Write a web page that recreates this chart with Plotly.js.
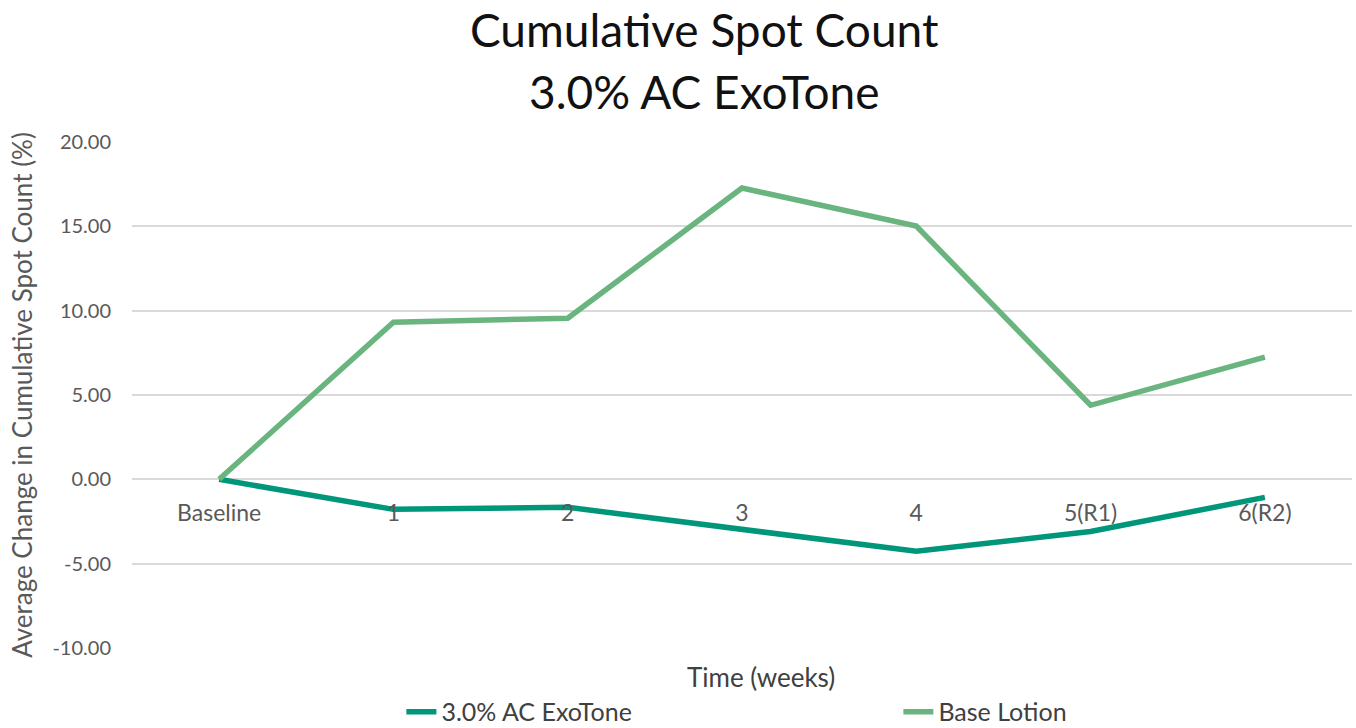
<!DOCTYPE html>
<html>
<head>
<meta charset="utf-8">
<script src="https://cdn.plot.ly/plotly-3.0.1.min.js"></script>
<style>html,body{margin:0;padding:0;background:#fff;}#chart{width:1356px;height:728px;}</style>
</head>
<body>
<div id="chart"></div>
<script>
const categories = ["Baseline", "1", "2", "3", "4", "5(R1)", "6(R2)"];
const exoTone = [0.00, -1.78, -1.66, -2.97, -4.27, -3.09, -1.07];
const baseLotion = [0.00, 9.32, 9.55, 17.27, 15.02, 4.39, 7.24];
const yTicks = [-10, -5, 0, 5, 10, 15, 20];
const yTickText = yTicks.map(v => v.toFixed(2));
const seriesNames = ["3.0% AC ExoTone", "Base Lotion"];
const titleLines = ["Cumulative Spot Count", "3.0% AC ExoTone"];

const FONT = "Lato, 'Open Sans', sans-serif";
const traces = [
  {x: categories, y: exoTone, name: seriesNames[0], type: "scatter", mode: "lines",
   line: {color: "#00967a", width: 5.5}},
  {x: categories, y: baseLotion, name: seriesNames[1], type: "scatter", mode: "lines",
   line: {color: "#6ab57f", width: 5.5}}
];
const layout = {
  width: 1356, height: 728,
  margin: {l: 132, r: 4, t: 142, b: 80},
  paper_bgcolor: "#fff", plot_bgcolor: "#fff",
  font: {family: FONT, color: "#595959"},
  xaxis: {type: "category", range: [-0.5, 6.5], anchor: "free", position: 1/3,
          showgrid: false, zeroline: false, showline: false, ticks: "",
          tickfont: {size: 23, color: "#595959"}, ticklabelstandoff: 18},
  yaxis: {range: [-10, 20], tickvals: yTicks, ticktext: yTickText, showgrid: true,
          gridcolor: "#d9d9d9", gridwidth: 2, zeroline: false, showline: false,
          tickfont: {size: 20, color: "#595959"}, ticklabelstandoff: 20,
          title: {text: "Average Change in Cumulative Spot Count (%)", font: {size: 26, color: "#595959"}, standoff: 12}},
  showlegend: true,
  legend: {orientation: "h", xref: "container", yref: "container", x: 0.296, y: 0.022,
           xanchor: "left", yanchor: "middle", entrywidth: 452, entrywidthmode: "pixels",
           font: {size: 25, color: "#404040"}, bgcolor: "rgba(0,0,0,0)"},
  annotations: [
    {text: titleLines[0], xref: "paper", yref: "paper", x: (704 - 132) / 1220, y: (648 - 30) / 506,
     xanchor: "center", yanchor: "middle", showarrow: false, font: {size: 46, color: "#111"}},
    {text: titleLines[1], xref: "paper", yref: "paper", x: (704 - 132) / 1220, y: (648 - 92) / 506,
     xanchor: "center", yanchor: "middle", showarrow: false, font: {size: 46, color: "#111"}},
    {text: "Time (weeks)", xref: "paper", yref: "paper", x: (761 - 132) / 1220, y: (648 - 677) / 506,
     xanchor: "center", yanchor: "middle", showarrow: false, font: {size: 26, color: "#404040"}}
  ]
};
Plotly.newPlot("chart", traces, layout, {displayModeBar: false, staticPlot: true});
</script>
</body>
</html>
